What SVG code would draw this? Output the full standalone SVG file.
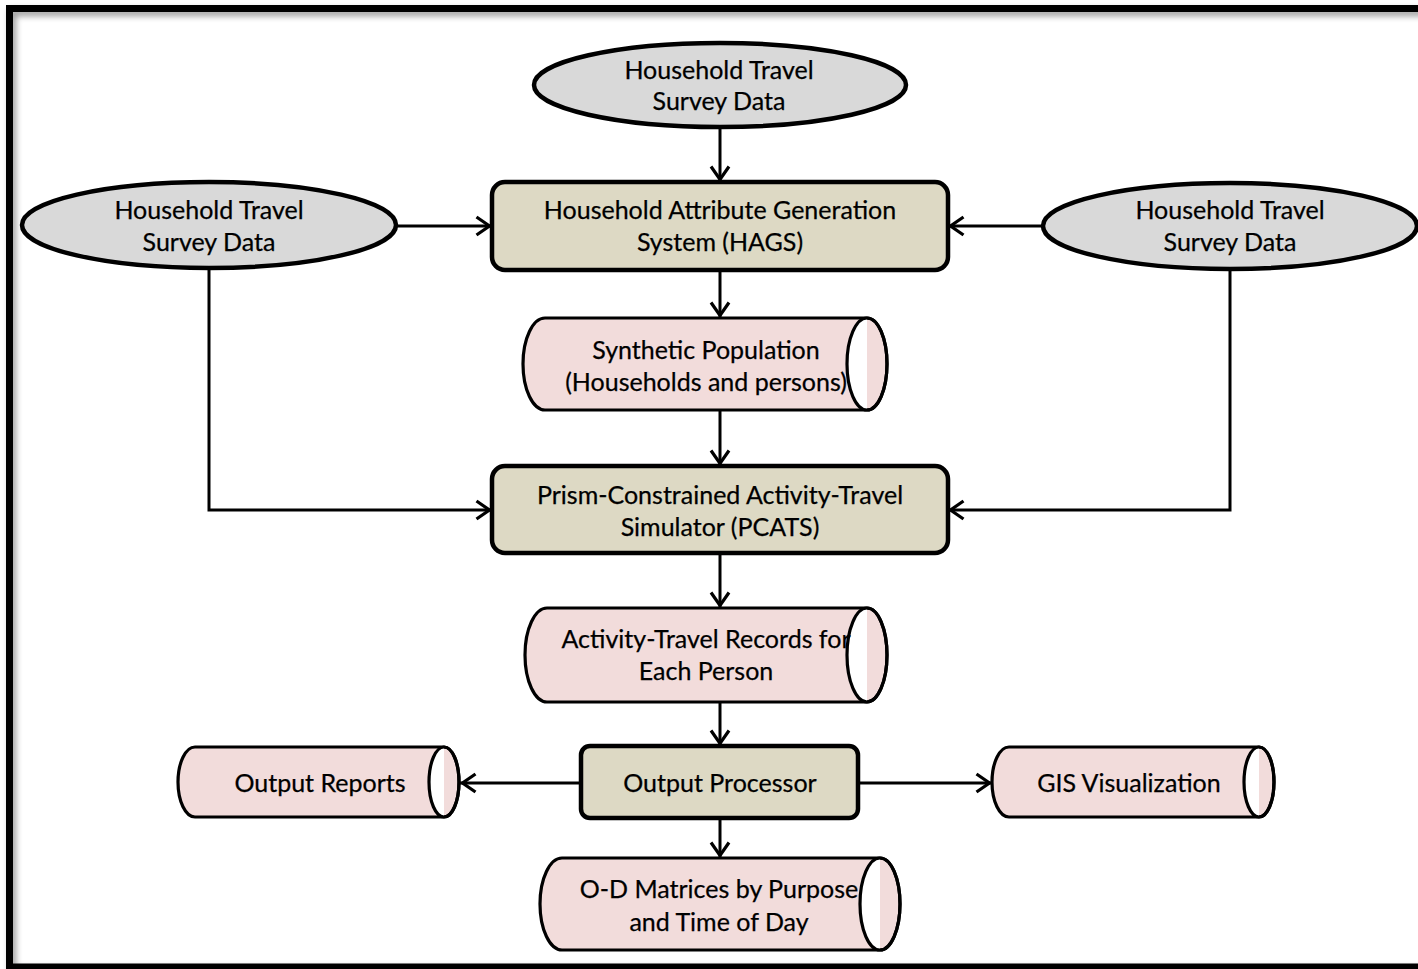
<svg xmlns="http://www.w3.org/2000/svg" width="1418" height="969" viewBox="0 0 1418 969">
  <defs>
    <style>
      text { font-family: Lato, "Open Sans", "Liberation Sans", sans-serif; font-size: 25px; fill: #000; stroke: #000; stroke-width: 0.25; text-anchor: middle; }
      .data { fill: #d9d9d9; stroke: #000; stroke-width: 4.5; }
      .proc { fill: #ddd9c4; stroke: #000; stroke-width: 4.5; }
      .store { fill: #f2dcdb; stroke: #000; stroke-width: 3.2; stroke-linejoin: round; }
      .cap { fill: #ffffff; stroke: none; }
      .capline { fill: none; stroke: #000; stroke-width: 3.2; }
      .link { fill: none; stroke: #000; stroke-width: 3; }
    </style>
    <filter id="frameShadow" x="-5%" y="-5%" width="110%" height="110%">
      <feGaussianBlur in="SourceAlpha" stdDeviation="3"/>
      <feOffset dx="3" dy="4" result="blur"/>
      <feComponentTransfer><feFuncA type="linear" slope="0.4"/></feComponentTransfer>
      <feMerge><feMergeNode/><feMergeNode in="SourceGraphic"/></feMerge>
    </filter>
    <marker id="arrow" viewBox="0 0 20 22" refX="17.5" refY="11" markerWidth="20" markerHeight="22" markerUnits="userSpaceOnUse" orient="auto">
      <path d="M2,2 L15,11 L2,20" fill="none" stroke="#000" stroke-width="3.2"/>
    </marker>
  </defs>

  <rect width="1418" height="969" fill="#ffffff"/>

  <!-- outer frame -->
  <rect x="9.5" y="8.5" width="1430" height="958.5" fill="none" stroke="#000" stroke-width="7" filter="url(#frameShadow)"/>

  <!-- connectors -->
  <g id="connectors">
    <line class="link" x1="720" y1="127" x2="720" y2="182" marker-end="url(#arrow)"/>
    <line class="link" x1="397" y1="226" x2="492" y2="226" marker-end="url(#arrow)"/>
    <line class="link" x1="1043" y1="226" x2="948" y2="226" marker-end="url(#arrow)"/>
    <line class="link" x1="720" y1="270" x2="720" y2="318" marker-end="url(#arrow)"/>
    <line class="link" x1="720" y1="410" x2="720" y2="466" marker-end="url(#arrow)"/>
    <polyline class="link" points="209,268 209,510 492,510" marker-end="url(#arrow)"/>
    <polyline class="link" points="1230,269 1230,510 948,510" marker-end="url(#arrow)"/>
    <line class="link" x1="720" y1="553" x2="720" y2="608" marker-end="url(#arrow)"/>
    <line class="link" x1="720" y1="702" x2="720" y2="746" marker-end="url(#arrow)"/>
    <line class="link" x1="581" y1="783" x2="460" y2="783" marker-end="url(#arrow)"/>
    <line class="link" x1="858" y1="783" x2="992" y2="783" marker-end="url(#arrow)"/>
    <line class="link" x1="720" y1="818" x2="720" y2="858" marker-end="url(#arrow)"/>
  </g>

  <!-- survey data sources -->
  <g id="survey-top">
    <ellipse class="data" cx="720" cy="85" rx="186" ry="42"/>
    <text x="719" y="79">Household Travel</text>
    <text x="719" y="110">Survey Data</text>
  </g>
  <g id="survey-left">
    <ellipse class="data" cx="209" cy="225" rx="187" ry="43"/>
    <text x="209" y="219">Household Travel</text>
    <text x="209" y="251">Survey Data</text>
  </g>
  <g id="survey-right">
    <ellipse class="data" cx="1230" cy="226" rx="187" ry="43"/>
    <text x="1230" y="219">Household Travel</text>
    <text x="1230" y="251">Survey Data</text>
  </g>

  <!-- processing stages -->
  <g id="hags">
    <rect class="proc" x="492" y="182" width="456" height="88" rx="13"/>
    <text x="720" y="219">Household Attribute Generation</text>
    <text x="720" y="251">System (HAGS)</text>
  </g>
  <g id="pcats">
    <rect class="proc" x="492" y="466" width="456" height="87" rx="13"/>
    <text x="720" y="504">Prism-Constrained Activity-Travel</text>
    <text x="720" y="536">Simulator (PCATS)</text>
  </g>
  <g id="output-processor">
    <rect class="proc" x="581" y="746" width="277" height="72" rx="9"/>
    <text x="720" y="792">Output Processor</text>
  </g>

  <!-- stored data (horizontal cylinders) -->
  <g id="synthetic-population">
    <path class="store" d="M545,318 L867,318 A20,46 0 0 1 867,410 L545,410 A22,46 0 0 1 545,318 Z"/>
    <path class="cap" d="M867,318 A20,46 0 0 0 867,410 Z"/>
    <ellipse class="capline" cx="867" cy="364" rx="20" ry="46"/>
    <text x="706" y="359">Synthetic Population</text>
    <text x="706" y="391">(Households and persons)</text>
  </g>
  <g id="activity-records">
    <path class="store" d="M547,608 L867,608 A20,47 0 0 1 867,702 L547,702 A22,47 0 0 1 547,608 Z"/>
    <path class="cap" d="M867,608 A20,47 0 0 0 867,702 Z"/>
    <ellipse class="capline" cx="867" cy="655" rx="20" ry="47"/>
    <text x="706" y="648">Activity-Travel Records for</text>
    <text x="706" y="680">Each Person</text>
  </g>
  <g id="output-reports">
    <path class="store" d="M195,747 L444,747 A15,35 0 0 1 444,817 L195,817 A17,35 0 0 1 195,747 Z"/>
    <path class="cap" d="M444,747 A15,35 0 0 0 444,817 Z"/>
    <ellipse class="capline" cx="444" cy="782" rx="15" ry="35"/>
    <text x="320" y="792">Output Reports</text>
  </g>
  <g id="gis-visualization">
    <path class="store" d="M1009,747 L1259,747 A15,35 0 0 1 1259,817 L1009,817 A17,35 0 0 1 1009,747 Z"/>
    <path class="cap" d="M1259,747 A15,35 0 0 0 1259,817 Z"/>
    <ellipse class="capline" cx="1259" cy="782" rx="15" ry="35"/>
    <text x="1129" y="792">GIS Visualization</text>
  </g>
  <g id="od-matrices">
    <path class="store" d="M562,858 L880,858 A20,46 0 0 1 880,950 L562,950 A22,46 0 0 1 562,858 Z"/>
    <path class="cap" d="M880,858 A20,46 0 0 0 880,950 Z"/>
    <ellipse class="capline" cx="880" cy="904" rx="20" ry="46"/>
    <text x="719" y="898">O-D Matrices by Purpose</text>
    <text x="719" y="931">and Time of Day</text>
  </g>
</svg>
